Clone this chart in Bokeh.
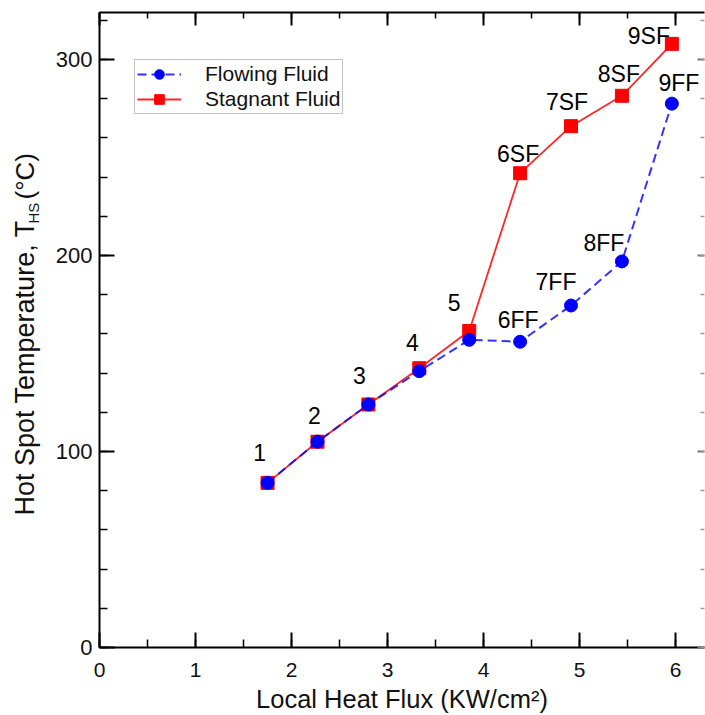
import math
from bokeh.plotting import figure
from bokeh.layouts import row
from bokeh.models import (ColumnDataSource, Range1d, LinearAxis, SingleIntervalTicker,
                          Legend, LegendItem)
from bokeh.embed import file_html
from bokeh.resources import INLINE
from bokeh.core.properties import value

# ---------------- data ----------------
heat_flux = [1.75, 2.27, 2.80, 3.33, 3.85, 4.38, 4.91, 5.44, 5.96]
flowing_temp = [84, 105, 124, 141, 157, 156, 174.5, 197, 277.5]
stagnant_temp = [84, 105, 124, 142.5, 161.5, 242, 266, 281.5, 308]

shared_labels = ["1", "2", "3", "4", "5"]
flowing_labels = ["6FF", "7FF", "8FF", "9FF"]
stagnant_labels = ["6SF", "7SF", "8SF", "9SF"]

x_label = "Local Heat Flux (KW/cm\u00b2)"
y_label_main = "Hot Spot Temperature, T"
y_label_sub = "HS"
y_label_unit = "(\u00b0C)"

# ---------------- styling ----------------
FONT = "Liberation Sans"
BLUE = "#0000ff"
RED = "#ff0000"
TXT = "#111111"
shared_off = [(-8, -30), (-3, -26), (-9, -29), (-7, -26), (-15, -28)]
flow_off = [(-2, -22), (-15, -24), (-18, -18), (7, -21)]
stag_off = [(-2, -19), (-4, -24), (-3, -22), (-23, -8)]

LABEL_W = 46
W, H = 705, 715
FRAME_TOP, FRAME_BOTTOM = 12, 647   # frame rows are shared by both plots in the row

# ---------- narrow panel holding the y-axis title (with subscript) ----------
# its frame is aligned with the main plot's frame, so 1 unit == 1 pixel upward from FRAME_BOTTOM
lab = figure(width=LABEL_W, height=H, output_backend="svg", toolbar_location=None,
             x_range=Range1d(0, LABEL_W), y_range=Range1d(0, FRAME_BOTTOM - FRAME_TOP),
             min_border_left=0, min_border_right=0, min_border_top=FRAME_TOP,
             min_border_bottom=H - FRAME_BOTTOM, x_axis_type=None, y_axis_type=None)
lab.grid.visible = False
lab.outline_line_color = None
lab.background_fill_color = "white"
lab.border_fill_color = "white"
lab.text(x=[24], y=[FRAME_BOTTOM - 515], text=[y_label_main], angle=math.pi / 2,
         text_align="left", text_baseline="middle",
         text_font=value(FONT), text_font_size="27px", text_color=TXT)
lab.text(x=[33], y=[FRAME_BOTTOM - 223], text=[y_label_sub], angle=math.pi / 2,
         text_align="left", text_baseline="middle",
         text_font=value(FONT), text_font_size="15px", text_color=TXT)
lab.text(x=[24], y=[FRAME_BOTTOM - 199], text=[y_label_unit], angle=math.pi / 2,
         text_align="left", text_baseline="middle",
         text_font=value(FONT), text_font_size="26px", text_color=TXT)

# ---------------- main plot ----------------
p = figure(width=W - LABEL_W, height=H, output_backend="svg", toolbar_location=None,
           x_range=Range1d(0, 6.3), y_range=Range1d(0, 324),
           min_border_left=99 - LABEL_W, min_border_right=1, min_border_top=FRAME_TOP,
           min_border_bottom=H - FRAME_BOTTOM, x_axis_type=None, y_axis_type=None)
p.grid.visible = False
p.outline_line_color = None
p.background_fill_color = "white"
p.border_fill_color = "white"

xt = SingleIntervalTicker(interval=1, num_minor_ticks=2)
yt = SingleIntervalTicker(interval=100, num_minor_ticks=5)

def style_axis(ax, show_labels, maj_in, min_in, size):
    ax.axis_line_width = 2
    ax.axis_line_color = "black"
    ax.major_tick_in = maj_in
    ax.major_tick_out = 0
    ax.minor_tick_in = min_in
    ax.minor_tick_out = 0
    ax.major_tick_line_width = 2
    ax.minor_tick_line_width = 1.5
    if show_labels:
        ax.major_label_text_font = FONT
        ax.major_label_text_font_size = size
        ax.major_label_text_color = TXT
    else:
        ax.major_label_text_font_size = "0px"
        ax.major_label_text_color = None
        ax.major_label_text_alpha = 0
        ax.major_label_standoff = 0

bottom = LinearAxis(ticker=xt)
style_axis(bottom, True, 15, 8, "21px")
bottom.major_label_standoff = 15
bottom.axis_label = x_label
bottom.axis_label_text_font = FONT
bottom.axis_label_text_font_size = "25.5px"
bottom.axis_label_text_font_style = "normal"
bottom.axis_label_text_color = TXT
bottom.axis_label_standoff = 5
p.add_layout(bottom, "below")

left = LinearAxis(ticker=yt)
style_axis(left, True, 15, 8, "22px")
left.major_label_standoff = 7
p.add_layout(left, "left")

top = LinearAxis(ticker=xt)
style_axis(top, False, 13, 6, "0px")
p.add_layout(top, "above")

right = LinearAxis(ticker=yt)
style_axis(right, False, 7, 4, "0px")
right.axis_line_color = None
right.major_tick_line_color = "#777777"
right.minor_tick_line_color = "#999999"
p.add_layout(right, "right")

# ---------------- series ----------------
src = ColumnDataSource(dict(x=heat_flux, f=flowing_temp, s=stagnant_temp))
r_sl = p.line("x", "s", source=src, line_color=RED, line_width=1.8, alpha=0.85)
r_sm = p.scatter("x", "s", source=src, marker="square", size=13, fill_color=RED, line_color=RED)
r_fl = p.line("x", "f", source=src, line_color=BLUE, line_width=2, line_dash="9 5", alpha=0.8)
r_fm = p.scatter("x", "f", source=src, marker="circle", size=13, fill_color=BLUE, line_color=BLUE)

# point labels
lx, ly, lt, dx, dy = [], [], [], [], []
for i, t in enumerate(shared_labels):
    lx.append(heat_flux[i]); ly.append(stagnant_temp[i]); lt.append(t)
    dx.append(shared_off[i][0]); dy.append(shared_off[i][1])
for j, t in enumerate(flowing_labels):
    i = 5 + j
    lx.append(heat_flux[i]); ly.append(flowing_temp[i]); lt.append(t)
    dx.append(flow_off[j][0]); dy.append(flow_off[j][1])
for j, t in enumerate(stagnant_labels):
    i = 5 + j
    lx.append(heat_flux[i]); ly.append(stagnant_temp[i]); lt.append(t)
    dx.append(stag_off[j][0]); dy.append(stag_off[j][1])
lsrc = ColumnDataSource(dict(x=lx, y=ly, t=lt, dx=dx, dy=dy))
p.text("x", "y", text="t", x_offset="dx", y_offset="dy", source=lsrc,
       text_font=value(FONT), text_font_size="23px", text_color="black",
       text_align="center", text_baseline="middle")

# legend
legend = Legend(items=[LegendItem(label="Flowing Fluid", renderers=[r_fl, r_fm]),
                       LegendItem(label="Stagnant Fluid", renderers=[r_sl, r_sm])],
                location=(35, 533))
legend.label_text_font = FONT
legend.label_text_font_size = "21px"
legend.label_text_color = TXT
legend.glyph_width = 44
legend.glyph_height = 24
legend.label_height = 24
legend.label_standoff = 24
legend.spacing = 1
legend.padding = 2
legend.margin = 0
legend.border_line_color = "#888888"
legend.border_line_width = 1
legend.background_fill_alpha = 1
p.add_layout(legend)

layout = row(lab, p, spacing=0)
open("out.html", "w").write(file_html(layout, INLINE))
